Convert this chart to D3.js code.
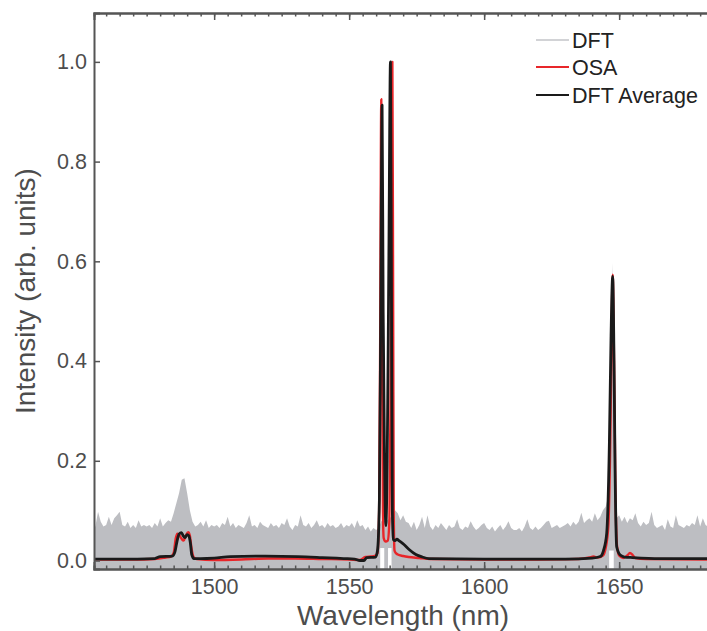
<!DOCTYPE html>
<html><head><meta charset="utf-8">
<script src="https://cdn.jsdelivr.net/npm/d3@7"></script>
<style>
html,body{margin:0;padding:0;background:#fff;}
svg{display:block;font-family:"Liberation Sans",Arial,Helvetica,sans-serif;}
</style></head>
<body><svg id="chart" width="707" height="631"></svg>
<script>
// ---------- DATA ----------
const dftWavelength = [1455,1456,1457,1458,1459,1460,1461,1462,1463,1464,1465,1466,1467,1468,1469,1470,1471,1472,1473,1474,1475,1476,1477,1478,1479,1480,1481,1482,1483,1484,1485,1486,1487,1488,1489,1490,1491,1492,1493,1494,1495,1496,1497,1498,1499,1500,1501,1502,1503,1504,1505,1506,1507,1508,1509,1510,1511,1512,1513,1514,1515,1516,1517,1518,1519,1520,1521,1522,1523,1524,1525,1526,1527,1528,1529,1530,1531,1532,1533,1534,1535,1536,1537,1538,1539,1540,1541,1542,1543,1544,1545,1546,1547,1548,1549,1550,1551,1552,1553,1554,1555,1556,1557,1558,1559,1560,1561,1562,1563,1564,1565,1566,1567,1568,1569,1570,1571,1572,1573,1574,1575,1576,1577,1578,1579,1580,1581,1582,1583,1584,1585,1586,1587,1588,1589,1590,1591,1592,1593,1594,1595,1596,1597,1598,1599,1600,1601,1602,1603,1604,1605,1606,1607,1608,1609,1610,1611,1612,1613,1614,1615,1616,1617,1618,1619,1620,1621,1622,1623,1624,1625,1626,1627,1628,1629,1630,1631,1632,1633,1634,1635,1636,1637,1638,1639,1640,1641,1642,1643,1644,1645,1646,1646.5,1647,1647.6,1648.2,1648.7,1649,1650,1651,1652,1653,1654,1655,1656,1657,1658,1659,1660,1661,1662,1663,1664,1665,1666,1667,1668,1669,1670,1671,1672,1673,1674,1675,1676,1677,1678,1679,1680,1681,1682,1683,1684,1685];
const dftIntensity = [0.065,0.068,0.098,0.078,0.068,0.071,0.088,0.071,0.085,0.091,0.098,0.071,0.068,0.078,0.065,0.071,0.065,0.081,0.068,0.071,0.068,0.071,0.065,0.075,0.068,0.085,0.068,0.075,0.081,0.078,0.095,0.115,0.135,0.162,0.165,0.135,0.101,0.078,0.068,0.071,0.078,0.068,0.081,0.065,0.071,0.068,0.071,0.065,0.075,0.071,0.088,0.068,0.075,0.065,0.071,0.068,0.065,0.075,0.091,0.068,0.071,0.065,0.078,0.071,0.068,0.065,0.075,0.068,0.071,0.065,0.075,0.071,0.085,0.068,0.061,0.071,0.068,0.091,0.071,0.068,0.075,0.065,0.071,0.081,0.068,0.071,0.065,0.075,0.068,0.071,0.065,0.068,0.075,0.065,0.071,0.068,0.075,0.065,0.081,0.068,0.071,0.061,0.068,0.058,0.065,0.061,0.065,0.080,0.080,0.080,0.085,0.090,0.101,0.095,0.081,0.091,0.078,0.075,0.065,0.078,0.061,0.071,0.088,0.065,0.091,0.068,0.061,0.071,0.065,0.075,0.068,0.061,0.071,0.065,0.068,0.083,0.065,0.061,0.068,0.065,0.079,0.068,0.061,0.065,0.071,0.075,0.065,0.061,0.068,0.058,0.065,0.071,0.061,0.068,0.079,0.065,0.061,0.061,0.065,0.058,0.068,0.083,0.065,0.061,0.068,0.061,0.065,0.071,0.078,0.080,0.065,0.068,0.071,0.065,0.068,0.071,0.075,0.068,0.078,0.071,0.078,0.096,0.075,0.081,0.085,0.078,0.095,0.081,0.088,0.101,0.108,0.130,0.200,0.400,0.597,0.350,0.150,0.085,0.091,0.078,0.088,0.075,0.085,0.081,0.095,0.075,0.068,0.078,0.071,0.075,0.098,0.071,0.065,0.068,0.071,0.061,0.083,0.068,0.065,0.091,0.071,0.068,0.065,0.071,0.068,0.075,0.071,0.091,0.068,0.085,0.071,0.068,0.065,0.068];
// wavelength ranges where the DFT trace leaves the baseline empty (white notches)
const dftGapStart = [1561.5, 1564.4, 1646.3];
const dftGapEnd   = [1563.0, 1565.7, 1648.0];
const dftGapTop   = [0.025, 0.025, 0.02];

const osaWavelength = [1455,1470,1478,1482,1484,1485,1485.8,1486.4,1487.2,1488.0,1488.7,1489.5,1490.4,1491.0,1491.6,1492.3,1493.5,1500,1510,1520,1530,1540,1550,1554,1556,1558,1559.5,1560.5,1561.1,1561.5,1561.9,1562.2,1562.5,1562.8,1563.5,1564.3,1564.9,1565.3,1565.7,1566.0,1566.3,1566.5,1566.8,1567.3,1568,1570,1572,1576,1580,1600,1620,1635,1639,1640.5,1642,1644,1645,1646,1646.6,1647.1,1647.6,1648.1,1648.6,1649.2,1650,1651.5,1653,1654,1655,1656,1660,1685];
const osaIntensity = [0.002,0.002,0.003,0.006,0.008,0.015,0.045,0.054,0.050,0.043,0.040,0.050,0.057,0.050,0.025,0.008,0.003,0.001,0.002,0.004,0.004,0.003,0.002,0.001,0.007,0.008,0.009,0.015,0.100,0.450,0.925,0.450,0.100,0.045,0.038,0.040,0.080,0.300,0.700,1.000,0.500,0.100,0.020,0.015,0.012,0.009,0.007,0.005,0.003,0.002,0.002,0.003,0.006,0.008,0.006,0.010,0.025,0.070,0.200,0.400,0.573,0.400,0.150,0.030,0.010,0.005,0.010,0.015,0.011,0.005,0.003,0.002];

const avgWavelength = [1455,1465,1478,1480,1484.5,1485.5,1486.3,1487.0,1487.9,1488.5,1489.2,1490.0,1490.6,1491.2,1491.7,1492.5,1495,1500,1506,1519,1531,1540,1548,1552,1554,1555.5,1556.5,1559.8,1560.5,1561.2,1561.7,1562.2,1562.6,1563.1,1563.6,1564.1,1564.7,1565.3,1565.7,1566.0,1566.4,1567.0,1567.7,1568.4,1570.3,1572.2,1574.7,1577.1,1579.6,1600,1630,1640,1643,1644.2,1645.4,1646.4,1647.0,1647.6,1648.1,1648.5,1649.1,1650.4,1652,1655,1665,1685];
const avgIntensity = [0.003,0.003,0.004,0.008,0.009,0.018,0.040,0.053,0.056,0.050,0.046,0.052,0.050,0.035,0.012,0.004,0.004,0.005,0.008,0.009,0.008,0.006,0.004,0.003,0.000,0.000,0.006,0.007,0.020,0.120,0.500,0.913,0.500,0.200,0.070,0.200,0.600,1.000,0.500,0.100,0.042,0.040,0.043,0.040,0.032,0.022,0.012,0.007,0.004,0.003,0.003,0.005,0.008,0.020,0.055,0.240,0.450,0.570,0.400,0.180,0.027,0.011,0.007,0.006,0.004,0.004];

const xMajorTicks = [1500,1550,1600,1650];
const xMinorTicks = d3.range(1460,1686,5);
const yTicks = [0.0,0.2,0.4,0.6,0.8,1.0];
const legendLabels = ["DFT","OSA","DFT Average"];
const legendColors = ["#c3c4c8","#e8262a","#1a1a1a"];

// ---------- LAYOUT ----------
const svg = d3.select("#chart");
const L = 94, T = 13, B = 569;
const x = d3.scaleLinear().domain([1455.5,1685]).range([L, L + 229.5*2.7]);
const y = d3.scaleLinear().domain([-0.017,1.098]).range([B, T]);
const axisColor = "#555";
const textColor = "#4d4d4d";

svg.append("clipPath").attr("id","clip").append("rect")
  .attr("x",L).attr("y",T).attr("width",x.range()[1]-L).attr("height",B-T);
const plot = svg.append("g").attr("clip-path","url(#clip)");

// DFT (gray)
const dft = dftWavelength.map((w,i)=>({w, v:dftIntensity[i]}));
plot.append("path").datum(dft)
  .attr("fill","#bdbec2")
  .attr("d", d3.area().x(d=>x(d.w)).y0(y(-0.017)).y1(d=>y(d.v)));
plot.selectAll("rect.gap").data(dftGapStart.map((s,i)=>({s,e:dftGapEnd[i],t:dftGapTop[i]})))
  .join("rect").attr("class","gap")
  .attr("x",d=>x(d.s)).attr("width",d=>x(d.e)-x(d.s))
  .attr("y",d=>y(d.t)).attr("height",d=>y(-0.017)-y(d.t))
  .attr("fill","#fff");

// OSA (red)
const line = d3.line().x(d=>x(d.w)).y(d=>y(d.v)).curve(d3.curveMonotoneX);
plot.append("path").datum(osaWavelength.map((w,i)=>({w,v:osaIntensity[i]})))
  .attr("fill","none").attr("stroke","#e8262a").attr("stroke-width",2.4)
  .attr("stroke-linejoin","round").attr("d",line);
// DFT Average (black)
plot.append("path").datum(avgWavelength.map((w,i)=>({w,v:avgIntensity[i]})))
  .attr("fill","none").attr("stroke","#1a1a1a").attr("stroke-width",2.8)
  .attr("stroke-linejoin","round").attr("d",line);

// ---------- AXES ----------
function styleAxis(g){
  g.selectAll(".domain").attr("stroke",axisColor).attr("stroke-width",2);
  g.selectAll(".tick line").attr("stroke",axisColor).attr("stroke-width",1.5);
  g.selectAll("text").attr("fill",textColor).style("font-size","21.5px")
    .style("font-family","'Liberation Sans',Arial,sans-serif");
}
svg.append("g").attr("transform",`translate(0,${B})`)
  .call(d3.axisBottom(x).tickValues(xMinorTicks).tickSize(-3.5).tickFormat(""))
  .call(styleAxis);
svg.append("g").attr("transform",`translate(0,${B})`)
  .call(d3.axisBottom(x).tickValues(xMajorTicks).tickSize(-7).tickPadding(10).tickFormat(d3.format("d")))
  .call(styleAxis);
svg.append("g").attr("transform",`translate(0,${T})`)
  .call(d3.axisTop(x).tickValues(xMinorTicks).tickSize(-3.5).tickFormat(""))
  .call(styleAxis);
svg.append("g").attr("transform",`translate(0,${T})`)
  .call(d3.axisTop(x).tickValues(xMajorTicks).tickSize(-7).tickFormat(""))
  .call(styleAxis);
svg.append("g").attr("transform",`translate(${L},0)`)
  .call(d3.axisLeft(y).tickValues(yTicks).tickSize(-6).tickPadding(7).tickFormat(d3.format(".1f")))
  .call(styleAxis);

// axis titles
svg.append("text").attr("x",403).attr("y",625).attr("text-anchor","middle")
  .attr("fill",textColor).style("font-size","28px").text("Wavelength (nm)");
svg.append("text").attr("transform","translate(35,291) rotate(-90)").attr("text-anchor","middle")
  .attr("fill",textColor).style("font-size","28px").text("Intensity (arb. units)");

// ---------- LEGEND ----------
const leg = svg.append("g");
const legY = [40, 67, 95];
legendLabels.forEach((lab,i)=>{
  leg.append("line").attr("x1",536).attr("x2",569).attr("y1",legY[i]).attr("y2",legY[i])
    .attr("stroke",legendColors[i]).attr("stroke-width", i===0?1.5:2.2);
  leg.append("text").attr("x",572).attr("y",legY[i]).attr("dy","0.36em")
    .attr("fill","#222").style("font-size","21.5px").text(lab);
});
</script></body></html>
